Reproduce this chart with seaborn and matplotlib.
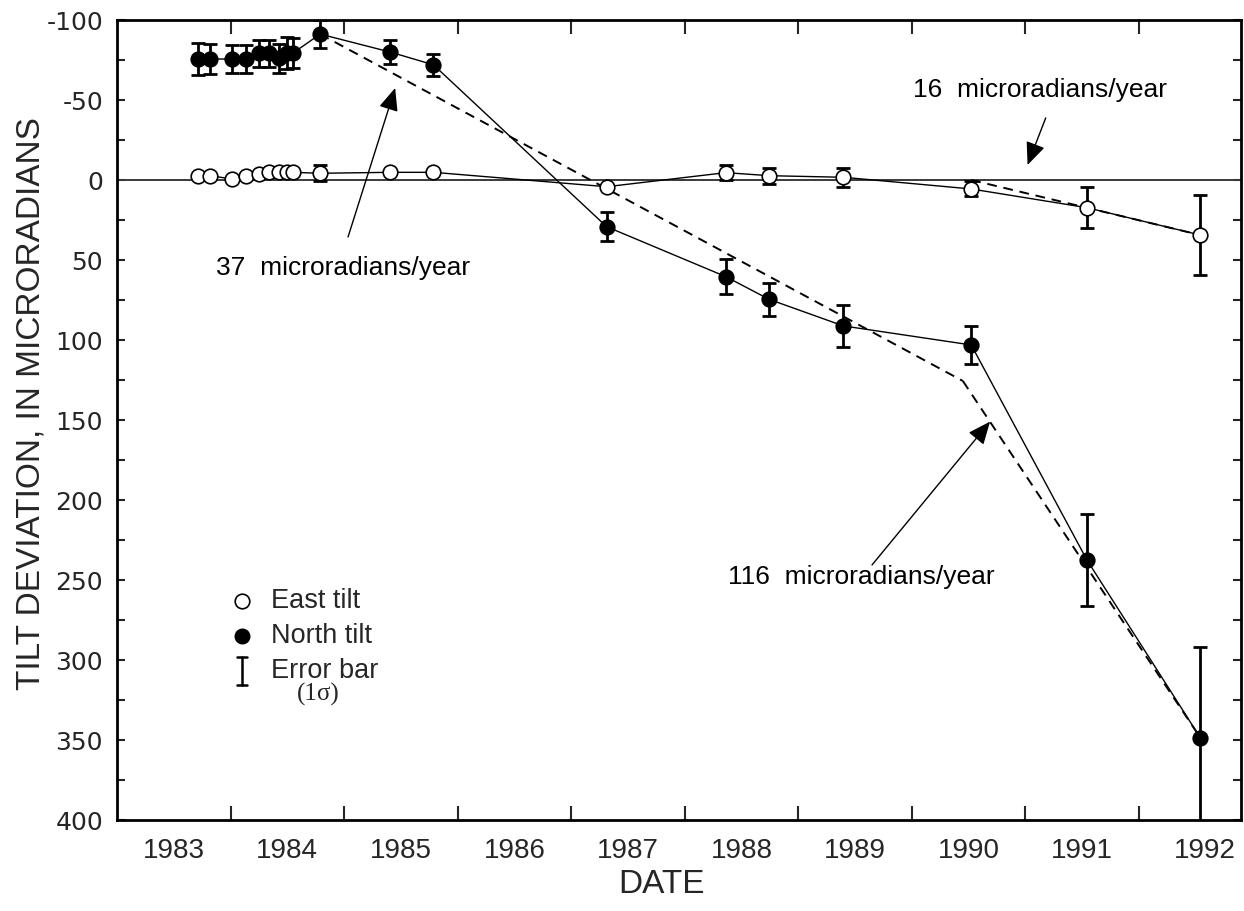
import matplotlib
matplotlib.use("Agg")
import matplotlib.pyplot as plt
from matplotlib.lines import Line2D
import numpy as np
import pandas as pd
import seaborn as sns

# Survey dates (decimal years) shared by both tilt components
survey_year = [1983.716, 1983.819, 1984.016, 1984.134, 1984.254, 1984.342,
               1984.430, 1984.500, 1984.548, 1984.789, 1985.405, 1985.787,
               1987.313, 1988.362, 1988.744, 1989.398, 1990.524, 1991.543,
               1992.542]

# East tilt (microradians) and 1-sigma errors (0 = smaller than symbol)
east_tilt = [-2.7, -2.7, -0.6, -2.7, -3.8, -4.8, -4.8, -4.8, -4.8, -4.2,
             -4.8, -4.8, 4.2, -4.6, -2.7, -1.7, 5.6, 17.3, 34.4]
east_err = [0, 0, 0, 0, 0, 0, 0, 0, 0, 5.0, 0, 0, 0, 4.8, 5.0, 6.0, 4.7,
            12.8, 24.8]

# North tilt (microradians) and 1-sigma errors
north_tilt = [-75.6, -75.6, -75.6, -75.6, -79.2, -79.2, -76.0, -79.5, -79.2,
              -91.2, -80.0, -72.0, 29.2, 60.4, 74.6, 91.2, 103.1, 237.5, 348.6]
north_err = [10.2, 9.2, 9.0, 9.0, 8.6, 8.6, 9.2, 10.0, 9.5, 9.0, 7.5, 6.8,
             9.0, 11.0, 10.5, 13.0, 12.0, 29.0, 56.5]

# Rate trend lines (dashed)
trend37_year = [1984.789, 1990.45]
trend37_tilt = [-91.2, 125.6]
trend116_year = [1990.45, 1992.542]
trend116_tilt = [125.6, 348.6]
trend16_year = [1990.524, 1992.542]
trend16_tilt = [0.0, 34.4]

# Axis labels
year_labels = ["1983", "1984", "1985", "1986", "1987", "1988", "1989",
               "1990", "1991", "1992"]
year_label_pos = [1983.5, 1984.5, 1985.5, 1986.5, 1987.5, 1988.5, 1989.5,
                  1990.5, 1991.5, 1992.585]
year_ticks = [1984, 1985, 1986, 1987, 1988, 1989, 1990, 1991, 1992]
tilt_ticks = [-100, -50, 0, 50, 100, 150, 200, 250, 300, 350, 400]

sns.set_theme(style="ticks")
plt.rcParams["font.family"] = ["Liberation Sans", "DejaVu Sans"]

east = pd.DataFrame({"year": survey_year, "tilt": east_tilt, "err": east_err})
north = pd.DataFrame({"year": survey_year, "tilt": north_tilt, "err": north_err})

fig = plt.figure(figsize=(12.44, 9.11), dpi=100)
ax = fig.add_axes([117 / 1244, 1 - 820 / 911, 1124 / 1244, 800 / 911])

ax.axhline(0, color="#3a3a3a", lw=1.4, zorder=1)

MS = 10.5

# Error bars under the symbols
for df in (east, north):
    sub = df[df["err"] > 0]
    ax.errorbar(sub["year"], sub["tilt"], yerr=sub["err"], fmt="none",
                ecolor="black", elinewidth=2, capsize=5, capthick=2,
                zorder=2)

# Dashed rate lines
for xs, ys in ((trend37_year, trend37_tilt), (trend116_year, trend116_tilt),
               (trend16_year, trend16_tilt)):
    ax.plot(xs, ys, color="black", lw=1.4, ls=(0, (5, 3.5)), zorder=2.5)

sns.lineplot(data=east, x="year", y="tilt", sort=False, estimator=None,
             color="black", lw=1.0, marker="o", markersize=MS,
             markerfacecolor="white", markeredgecolor="black",
             markeredgewidth=1.2, ax=ax, zorder=3)
sns.lineplot(data=north, x="year", y="tilt", sort=False, estimator=None,
             color="black", lw=1.0, marker="o", markersize=MS,
             markerfacecolor="black", markeredgecolor="black",
             markeredgewidth=1.2, ax=ax, zorder=3)

ax.set_xlim(1983, 1992.9)
ax.set_ylim(400, -100)

# x axis: tick marks at year boundaries, labels centred in each year
ax.set_xticks(year_ticks)
ax.set_xticklabels([])
ax.set_xticks(year_label_pos, minor=True)
ax.set_xticklabels(year_labels, minor=True, fontsize=20)
ax.tick_params(axis="x", which="major", direction="in", length=10, width=1.5,
               top=True, bottom=True)
ax.tick_params(axis="x", which="minor", length=0, pad=13)

ax.set_yticks(tilt_ticks)
ax.set_yticklabels([str(t) for t in tilt_ticks], family="DejaVu Sans",
                   fontsize=18)
ax.set_yticks(np.arange(-75, 400, 50), minor=True)
ax.tick_params(axis="y", which="both", direction="in", length=6, width=1.5,
               left=True, right=True, pad=10)

for side in ("left", "bottom", "top", "right"):
    ax.spines[side].set_linewidth(2)
    ax.spines[side].set_color("black")

ax.set_xlabel("DATE", fontsize=24)
ax.set_ylabel("TILT DEVIATION, IN MICRORADIANS", fontsize=24)
ax.xaxis.set_label_coords(0.484, -0.061)
ax.yaxis.set_label_coords(-0.063, 0.52)

# Rate annotations
text_kw = dict(fontsize=19, ha="center", va="center", color="black")
arrow_kw = dict(arrowstyle="-|>,head_length=0.7,head_width=0.3",
                color="black", lw=1.0, shrinkA=0, shrinkB=0,
                mutation_scale=20)
ax.text(1991.13, -56.5, "16  microradians/year", **text_kw)
ax.annotate("", xy=(1991.02, -9.4), xytext=(1991.18, -38.8),
            arrowprops=arrow_kw)
ax.text(1984.99, 55, "37  microradians/year", **text_kw)
ax.annotate("", xy=(1985.45, -57.5), xytext=(1985.035, 35.6),
            arrowprops=arrow_kw)
ax.text(1989.56, 248, "116  microradians/year", **text_kw)
ax.annotate("", xy=(1990.69, 151), xytext=(1989.65, 240.6),
            arrowprops=arrow_kw)

# Symbol key
def ax_xy(px, py):
    return ((px - 117) / 1124, (820 - py) / 800)

key_x = 242
rows = [(601, "East tilt"), (636, "North tilt"), (671, "Error bar")]
ax.add_line(Line2D([ax_xy(key_x, 0)[0]], [ax_xy(0, rows[0][0])[1]],
                   transform=ax.transAxes, marker="o", markersize=MS,
                   markerfacecolor="white", markeredgecolor="black",
                   markeredgewidth=1.2, ls="none"))
ax.add_line(Line2D([ax_xy(key_x, 0)[0]], [ax_xy(0, rows[1][0])[1]],
                   transform=ax.transAxes, marker="o", markersize=MS,
                   markerfacecolor="black", markeredgecolor="black",
                   ls="none"))
kx = ax_xy(key_x, 0)[0]
ax.add_line(Line2D([kx, kx], [ax_xy(0, 657)[1], ax_xy(0, 685)[1]],
                   transform=ax.transAxes, color="black", lw=1.8))
for yy in (657, 685):
    ax.add_line(Line2D([ax_xy(key_x - 5, 0)[0], ax_xy(key_x + 5, 0)[0]],
                       [ax_xy(0, yy)[1]] * 2, transform=ax.transAxes,
                       color="black", lw=1.8))
for py, label in rows:
    ax.text(ax_xy(271, 0)[0], ax_xy(0, py)[1], label, transform=ax.transAxes,
            fontsize=19.5, ha="left", va="center")
ax.text(ax_xy(318, 0)[0], ax_xy(0, 694)[1], "(1σ)", transform=ax.transAxes,
        fontsize=18, ha="center", va="center",
        family=["Liberation Serif", "DejaVu Serif"])

fig.savefig("out.png", dpi=100)
